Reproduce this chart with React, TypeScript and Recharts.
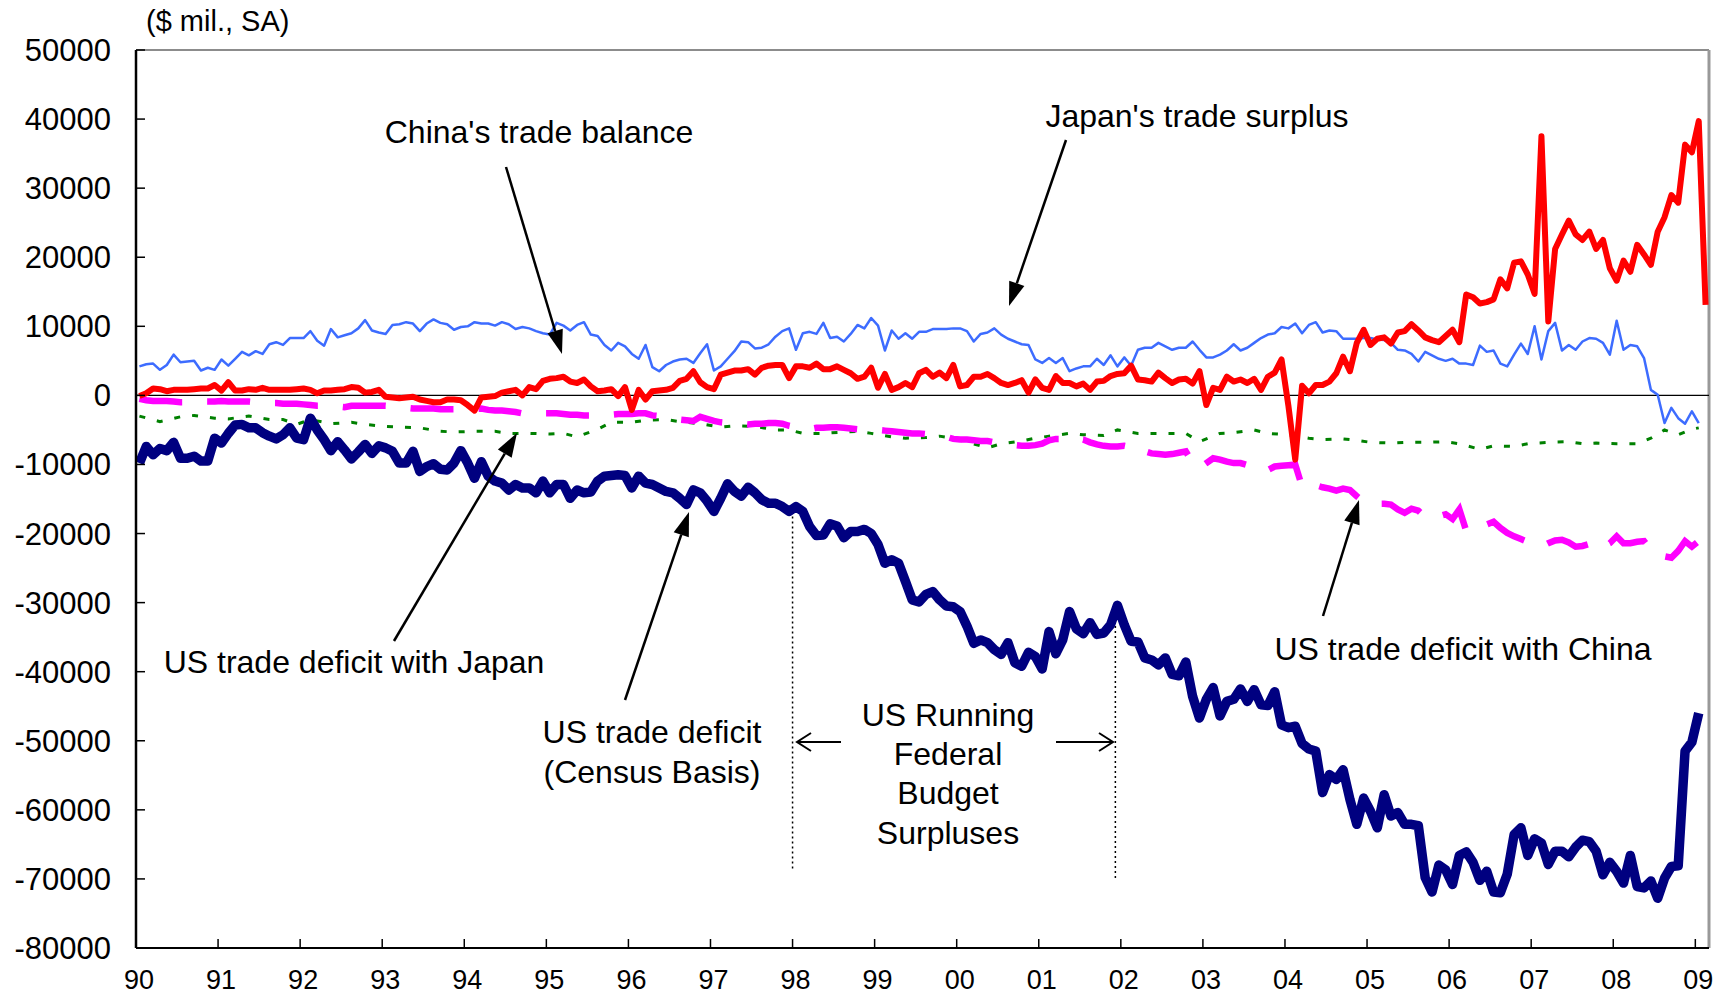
import { LineChart, Line, XAxis, YAxis, ReferenceLine } from 'recharts';

// Monthly series, Jan 1990 onward ($ mil., SA)
const yearLabels = ['90', '91', '92', '93', '94', '95', '96', '97', '98', '99',
  '00', '01', '02', '03', '04', '05', '06', '07', '08', '09'];
const yTicks = [-80000, -70000, -60000, -50000, -40000, -30000, -20000, -10000,
  0, 10000, 20000, 30000, 40000, 50000];

const chinaBalance = [
  -100, 300, 1000, 900, 600, 800, 800, 800, 900, 1000, 1000, 1500,
  700, 1900, 700, 700, 900, 800, 1100, 800, 800, 800, 800, 900,
  1000, 800, 300, 700, 700, 800, 900, 1200, 1100, 400, 500, 800,
  -200, -300, -400, -300, -200, -600, -800, -1000, -1000, -600, -600, -700,
  -1400, -2200, -300, -200, -100, 400, 600, 800, 0, 1200, 900, 2100,
  2400, 2500, 2700, 2000, 1800, 2300, 1300, 600, 700, 900, -100, 1200,
  -2100, 800, -600, 600, 700, 800, 1100, 2100, 2400, 3500, 1900, 1200,
  900, 3000, 3300, 3600, 3600, 3800, 3000, 4000, 4300, 4400, 4400, 2500,
  4200, 4200, 4000, 4600, 3800, 3800, 4200, 3700, 3200, 2400, 2700, 4000,
  1100, 3100, 800, 1200, 1800, 1200, 3200, 3700, 2700, 3300, 2500, 4400,
  1300, 1500, 2700, 2700, 3100, 2500, 1800, 1500, 1800, 2200, 400, 2300,
  1100, 800, 2800, 1800, 1800, 1300, 1700, 800, 2000, 2100, 2800, 3100,
  3200, 4300, 2300, 2200, 2000, 3300, 2500, 1800, 2300, 2400, 1700, 3500,
  -1400, 1100, 800, 2700, 2000, 2300, 1800, 2400, 800, 2700, 3300, 5200,
  -1500, -9300, 1400, 300, 1500, 1500, 2000, 3200, 5600, 3500, 7600, 9500,
  7300, 8200, 8400, 7500, 9100, 9300, 10300, 9400, 8400, 8000, 7700, 8600,
  9500, 7700, 14600, 14200, 13300, 13500, 13900, 16800, 15500, 19200, 19400, 17500,
  14700, 37500, 10700, 21200, 23300, 25300, 23300, 22500, 23700, 21200, 22500, 18400,
  16600, 19500, 17900, 21800, 20400, 18900, 23700, 25800, 29000, 27900, 36300, 35200,
  39700, 13100,
];

const japanSurplus = [
  4200, 4500, 4600, 3700, 4400, 5900, 4800, 4900, 5000, 3600, 4000, 3700,
  5200, 4300, 5300, 6300, 5800, 6400, 6000, 7400, 7700, 7300, 8300, 8300,
  8300, 9300, 7900, 7200, 9600, 8400, 8700, 9000, 9700, 10900, 9400, 9100,
  8900, 10200, 10300, 10600, 10400, 9300, 10400, 11000, 10500, 10300, 9500, 9900,
  10000, 10600, 10400, 10400, 10100, 10600, 10300, 9600, 9900, 9700, 9300, 9000,
  8800, 10500, 10100, 9400, 10200, 10600, 8800, 8600, 7300, 6500, 7600, 7100,
  6000, 5300, 7300, 4100, 3500, 4400, 4900, 5200, 5300, 4700, 6100, 7400,
  3600, 4200, 5300, 6400, 7800, 7700, 6800, 6900, 7400, 8500, 9300, 9700,
  6600, 9000, 9200, 8900, 10500, 8300, 8500, 7800, 8900, 10200, 9700, 11200,
  10100, 6500, 9400, 8200, 9000, 8200, 9200, 9200, 9600, 9600, 9600, 9700,
  9700, 9300, 7800, 8900, 9100, 9700, 8800, 8200, 7800, 7400, 7300, 5200,
  4700, 5400, 4700, 5400, 3500, 3900, 4200, 4200, 5300, 4400, 5800, 4200,
  5500, 4300, 6600, 6900, 6900, 7600, 7100, 6600, 6900, 6900, 7800, 6600,
  5500, 5500, 5900, 6500, 7400, 6500, 6900, 7600, 8300, 8800, 9000, 9900,
  9700, 10400, 9000, 10200, 10600, 9100, 9400, 9300, 8200, 8200, 8200, 8300,
  8300, 8100, 8000, 7600, 6600, 6500, 6000, 4900, 6300, 5800, 5300, 5000,
  5300, 4600, 4600, 4400, 7200, 6300, 6500, 4600, 4200, 5900, 7500, 6000,
  10000, 5200, 9300, 10500, 6500, 7300, 6600, 7800, 8300, 8200, 7600, 5900,
  10800, 6600, 7300, 7100, 5400, 800, 100, -4000, -1800, -3300, -4100, -2300,
  -4000,
];

const usDeficit = [
  -9800, -7400, -8600, -7700, -8000, -6800, -9100, -9100, -8800, -9500, -9500, -6200,
  -6900, -5500, -4300, -4200, -4700, -4700, -5400, -5900, -6300, -5700, -4700, -6200,
  -6400, -3300, -5000, -6400, -8000, -6700, -7900, -9200, -8200, -7100, -8400, -7300,
  -7600, -8100, -9800, -9800, -8100, -11000, -10300, -9900, -10700, -10800, -9800, -8000,
  -9800, -12000, -9600, -11700, -12400, -12700, -13700, -12900, -13400, -13400, -14100, -12400,
  -14100, -12900, -12900, -14900, -13700, -14100, -14000, -12400, -11700, -11600, -11500, -11600,
  -13400, -11700, -12700, -12900, -13400, -13900, -14100, -14900, -15800, -13700, -14100, -15300,
  -16800, -14900, -12800, -13900, -14600, -13300, -14100, -15100, -15600, -15600, -16100, -16800,
  -16100, -16800, -19000, -20300, -20200, -18600, -18900, -20600, -19700, -19700, -19400, -20000,
  -21600, -24300, -23800, -24300, -26900, -29600, -29900, -28800, -28400, -29600, -30500, -30600,
  -31300, -33400, -35900, -35400, -35800, -36800, -37500, -35800, -38700, -39200, -37200, -37800,
  -39600, -34200, -37400, -35400, -31300, -33800, -34500, -32900, -34600, -34400, -33200, -30400,
  -33200, -35600, -35700, -38000, -38300, -39000, -38000, -40400, -40600, -38600, -43600, -46700,
  -44000, -42300, -46400, -44300, -44000, -42500, -44300, -42600, -44800, -44900, -42900, -47700,
  -48100, -47900, -50400, -51200, -51500, -57500, -54900, -55600, -54200, -58500, -62100, -58300,
  -60200, -62600, -57800, -60900, -60400, -62100, -62100, -62300, -69800, -71900, -68000, -68700,
  -70800, -66600, -66100, -67600, -70200, -68900, -71900, -72000, -69300, -63600, -62600, -66600,
  -64200, -64800, -67900, -66000, -66000, -66800, -65400, -64400, -64600, -66000, -69400, -67600,
  -68900, -70600, -66600, -71100, -71300, -70300, -72800, -69900, -68200, -68100, -51500, -50200,
  -46000,
];

const usChinaDeficit = [
  -500, -700, -800, -800, -800, -900, -1000, -1000, -1000, -900, -900, -900,
  -800, -900, -900, -900, -900, -1000, -1000, -1100, -1100, -1200, -1200, -1200,
  -1300, -1400, -1500, -1500, -1600, -1600, -1700, -1500, -1500, -1500, -1500, -1500,
  -1500, -1600, -1700, -1800, -1900, -1900, -1900, -1900, -2000, -2000, -2000, -2000,
  -2000, -2000, -1900, -2100, -2200, -2200, -2300, -2400, -2600, -2600, -2600, -2600,
  -2600, -2600, -2700, -2800, -2800, -2900, -2900, -2900, -2800, -2800, -2700, -2700,
  -2700, -2600, -2600, -2900, -3000, -3100, -3300, -3500, -3600, -3700, -3100, -3400,
  -3700, -3900, -4000, -4000, -4100, -4200, -4100, -4100, -4000, -4000, -4100, -4400,
  -4600, -4700, -4900, -4700, -4700, -4600, -4600, -4700, -4800, -4900, -5000, -5000,
  -5000, -5100, -5200, -5300, -5400, -5500, -5500, -5600, -5800, -6000, -6000, -6300,
  -6400, -6400, -6500, -6600, -6600, -6800, -7000, -7100, -7200, -7300, -7300, -7200,
  -7000, -6500, -6300, -6300, -6600, -6300, -6400, -6800, -7100, -7300, -7400, -7400,
  -7300, -7500, -7300, -8100, -8400, -8500, -8600, -8500, -8300, -8100, -9800, -10500,
  -9800, -9100, -9300, -9600, -9800, -9800, -10100, -10500, -11000, -10800, -10300, -10200,
  -10100, -10000, -13200, -12800, -13000, -13300, -13500, -13800, -13500, -13700, -14600, -15400,
  -15600, -15700, -15700, -15800, -16500, -17000, -16400, -16700, -17600, -17800, -17500, -17200,
  -17900, -16500, -19600, -19200, -18800, -18700, -18300, -19200, -19900, -20400, -20800, -21200,
  -21600, -21900, -21400, -21000, -20900, -21300, -21900, -21800, -21500, -21100, -21900, -21400,
  -20400, -21400, -21400, -21200, -21100, -22400, -23100, -23300, -23500, -22500, -21100, -21900,
  -21100,
];

// US deficit with Japan, read at the dotted line's marks (month index, value)
const usJapanMonths = [0, 3, 6, 8, 11, 13, 16, 19, 21, 23, 25, 28, 31, 33, 36, 38, 41, 44, 46, 49,
  52, 54, 57, 60, 62, 64, 67, 69, 72, 74, 77, 79, 82, 85, 87, 90, 93, 95, 97, 100,
  103, 105, 107, 110, 112, 115, 117, 119, 124, 126, 129, 131, 133, 136, 138, 141, 143, 146, 148, 151,
  153, 155, 158, 160, 163, 165, 168, 171, 173, 176, 178, 180, 183, 185, 188, 191, 193, 196, 198, 201,
  203, 206, 209, 211, 213, 216, 219, 221, 223, 225, 227, 228];
const usJapanDeficit = [-3000, -3800, -3100, -2900, -3300, -3400, -3000, -3500, -3500, -4200, -3500, -4100,
  -3900, -4200, -4500, -4600, -4700, -5200, -5300, -5200, -5200, -5500, -5500, -5600, -5500, -6000,
  -4900, -3900, -3900, -3600, -3500, -3800, -4100, -4600, -4400, -4500, -5000, -5000, -5500, -5500,
  -5300, -5200, -5500, -6000, -6200, -6100, -5900, -6200, -7600, -7000, -6600, -6200, -5900, -5500,
  -5700, -5800, -5000, -5500, -5500, -5500, -5500, -6700, -5500, -5400, -5000, -5500, -5700, -6200,
  -6400, -6300, -6500, -6800, -6900, -6800, -6800, -6700, -7000, -7800, -7300, -7400, -7000, -6800,
  -6700, -7000, -6900, -7000, -7000, -6200, -5000, -5700, -4900, -4700];

const FONT = "'Liberation Sans', Arial, sans-serif";

// points sit in the middle of each month's slot
const monthly = (values: number[]) => values.map((v, i) => ({ x: i + 0.5, v }));
const usJapanData = usJapanMonths.map((m, i) => ({ x: m + 0.5, v: usJapanDeficit[i] }));
const xTicks = yearLabels.map((_, i) => i * 12);

function Arrow({ x1, y1, x2, y2, open = false }: { x1: number; y1: number; x2: number; y2: number; open?: boolean }) {
  const a = Math.atan2(y2 - y1, x2 - x1);
  const len = open ? 14 : 24;
  const half = open ? 9 : 8;
  const bx = x2 - len * Math.cos(a);
  const by = y2 - len * Math.sin(a);
  const px = -Math.sin(a) * half;
  const py = Math.cos(a) * half;
  if (open) {
    return (
      <g stroke="#000" strokeWidth={2} fill="none">
        <line x1={x1} y1={y1} x2={x2} y2={y2} />
        <polyline points={`${bx + px},${by + py} ${x2},${y2} ${bx - px},${by - py}`} />
      </g>
    );
  }
  return (
    <g>
      <line x1={x1} y1={y1} x2={bx} y2={by} stroke="#000" strokeWidth={2.5} />
      <polygon points={`${x2},${y2} ${bx + px},${by + py} ${bx - px},${by - py}`} fill="#000" />
    </g>
  );
}

function Annotations() {
  const t = { fontFamily: FONT, fontSize: 32, fill: '#000' };
  return (
    <svg width={1724} height={998} style={{ position: 'absolute', left: 0, top: 0, pointerEvents: 'none' }}>
      <text x={146} y={31} {...t} fontSize={29}>($ mil., SA)</text>
      <text x={539} y={143} textAnchor="middle" {...t}>China's trade balance</text>
      <text x={1197} y={127} textAnchor="middle" {...t}>Japan's trade surplus</text>
      <text x={354} y={673} textAnchor="middle" {...t}>US trade deficit with Japan</text>
      <text x={1463} y={660} textAnchor="middle" {...t}>US trade deficit with China</text>
      <text x={652} y={743} textAnchor="middle" {...t}>US trade deficit</text>
      <text x={652} y={783} textAnchor="middle" {...t}>(Census Basis)</text>
      <text x={948} y={726} textAnchor="middle" {...t}>US Running</text>
      <text x={948} y={765} textAnchor="middle" {...t}>Federal</text>
      <text x={948} y={804} textAnchor="middle" {...t}>Budget</text>
      <text x={948} y={844} textAnchor="middle" {...t}>Surpluses</text>
      <Arrow x1={506} y1={167} x2={562} y2={354} />
      <Arrow x1={1066} y1={140} x2={1009} y2={306} />
      <Arrow x1={394} y1={641} x2={517} y2={433} />
      <Arrow x1={625} y1={700} x2={689} y2={512} />
      <Arrow x1={1323} y1={616} x2={1359} y2={500} />
      <Arrow x1={841} y1={742} x2={797} y2={742} open />
      <Arrow x1={1056} y1={742} x2={1113} y2={742} open />
    </svg>
  );
}

export default function App() {
  return (
    <div style={{ position: 'absolute', left: 0, top: 0, width: 1724, height: 998, background: '#fff' }}>
      <LineChart width={1724} height={998} margin={{ top: 50, right: 15, bottom: 0, left: 0 }}>
        <XAxis
          type="number"
          dataKey="x"
          domain={[0, 230]}
          ticks={xTicks}
          interval={0}
          tickFormatter={(v: number) => yearLabels[Math.round(v / 12)]}
          height={50}
          tickSize={-9}
          tickMargin={31}
          axisLine={{ stroke: '#000', strokeWidth: 2 }}
          tickLine={{ stroke: '#000', strokeWidth: 1.5 }}
          tick={{ fontSize: 27, fill: '#000', fontFamily: FONT, dx: 3 }}
        />
        <YAxis
          type="number"
          domain={[-80000, 50000]}
          ticks={yTicks}
          interval={0}
          width={136}
          tickSize={-9}
          tickMargin={34}
          axisLine={{ stroke: '#000', strokeWidth: 2.5 }}
          tickLine={{ stroke: '#000', strokeWidth: 1.5 }}
          tick={{ fontSize: 31, fill: '#000', fontFamily: FONT }}
        />
        <ReferenceLine y={50000} stroke="#8c8c8c" strokeWidth={2} />
        <ReferenceLine x={230} stroke="#999" strokeWidth={3} />
        <ReferenceLine y={0} stroke="#000" strokeWidth={1.2} />
        <ReferenceLine segment={[{ x: 96, y: -16800 }, { x: 96, y: -68800 }]} stroke="#000" strokeWidth={1.5} strokeDasharray="2 3" />
        <ReferenceLine segment={[{ x: 143.2, y: -33400 }, { x: 143.2, y: -70100 }]} stroke="#000" strokeWidth={1.5} strokeDasharray="2 3" />
        <Line data={usJapanData} dataKey="v" type="linear" stroke="#008000" strokeWidth={3} strokeDasharray="6 12" dot={false} activeDot={false} isAnimationActive={false} />
        <Line data={monthly(usChinaDeficit)} dataKey="v" type="linear" stroke="#ff00ff" strokeWidth={6.5} strokeDasharray="43 25" dot={false} activeDot={false} isAnimationActive={false} />
        <Line data={monthly(japanSurplus)} dataKey="v" type="linear" stroke="#3d6cff" strokeWidth={2.5} strokeLinejoin="round" dot={false} activeDot={false} isAnimationActive={false} />
        <Line data={monthly(chinaBalance)} dataKey="v" type="linear" stroke="#ff0000" strokeWidth={6} strokeLinejoin="round" dot={false} activeDot={false} isAnimationActive={false} />
        <Line data={monthly(usDeficit)} dataKey="v" type="linear" stroke="#000080" strokeWidth={9.5} strokeLinejoin="round" dot={false} activeDot={false} isAnimationActive={false} />
      </LineChart>
      <Annotations />
    </div>
  );
}
